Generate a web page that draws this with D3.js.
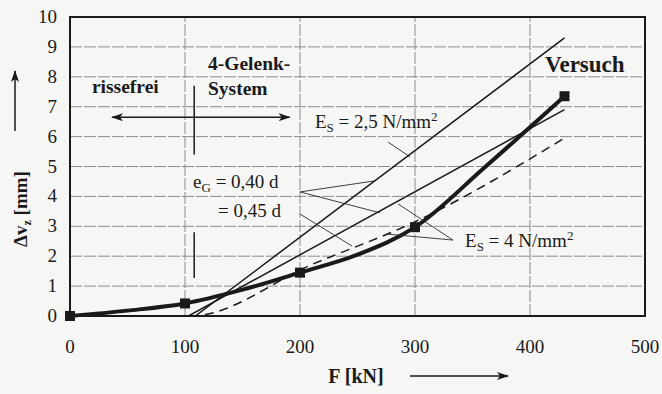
<!DOCTYPE html>
<html>
<head>
<meta charset="utf-8">
<script src="https://cdn.jsdelivr.net/npm/d3@7"></script>
<style>
  html, body { margin: 0; padding: 0; background: #f6f6f4; }
  svg { display: block; }
  svg text { font-family: "Liberation Serif", "Tinos", "Times New Roman", "Times", "Noto Serif", "DejaVu Serif", "FreeSerif", serif; }
</style>
</head>
<body>
<div id="chart"></div>
<script>
// measured curve (Versuch)
const versuchF = [0, 50, 100, 150, 200, 250, 300, 360, 430];
const versuchV = [0, 0.18, 0.42, 0.88, 1.45, 2.05, 2.97, 4.95, 7.35];
const markerF = [0, 100, 200, 300, 430];
const markerV = [0, 0.42, 1.45, 2.97, 7.35];

// theoretical lines
const es25F = [0, 109, 430];
const es25V = [0, 0, 9.3];
const es4F = [0, 103, 430];
const es4V = [0, 0, 6.9];
const es4dashF = [0, 105, 212, 300, 430];
const es4dashV = [0, 0, 1.75, 3.15, 5.95];

const xTicks = [0, 100, 200, 300, 400, 500];
const yTicks = [0, 1, 2, 3, 4, 5, 6, 7, 8, 9, 10];

const width = 662;
const height = 394;
const margin = {top: 17, right: 17, bottom: 78, left: 70};

const svg = d3.select('#chart')
  .append('svg')
  .attr('width', width)
  .attr('height', height);

svg.append('rect').attr('width', width).attr('height', height).attr('fill', '#f6f6f4');

const x = d3.scaleLinear().domain([0, 500]).range([margin.left, width - margin.right]);
const y = d3.scaleLinear().domain([0, 10]).range([height - margin.bottom, margin.top]);

const defs = svg.append('defs');
defs.append('marker')
  .attr('id', 'head')
  .attr('viewBox', '0 0 12 8')
  .attr('refX', 11).attr('refY', 4)
  .attr('markerWidth', 12).attr('markerHeight', 8)
  .attr('markerUnits', 'userSpaceOnUse')
  .attr('orient', 'auto-start-reverse')
  .append('path')
  .attr('d', 'M0,0 L12,4 L0,8 L3,4 Z')
  .attr('fill', '#1a1a1a');

// grid
const grid = svg.append('g').attr('stroke', '#8c8c8c').attr('stroke-width', 1).attr('stroke-dasharray', '12,2');
grid.selectAll('.hg')
  .data(yTicks.slice(1, -1))
  .enter().append('line')
  .attr('x1', x(0)).attr('x2', x(500))
  .attr('y1', d => y(d)).attr('y2', d => y(d));
grid.selectAll('.vg')
  .data(xTicks.slice(1, -1))
  .enter().append('line')
  .attr('y1', y(0)).attr('y2', y(10))
  .attr('x1', d => x(d)).attr('x2', d => x(d));

// frame
svg.append('rect')
  .attr('x', x(0)).attr('y', y(10))
  .attr('width', x(500) - x(0)).attr('height', y(0) - y(10))
  .attr('fill', 'none').attr('stroke', '#1a1a1a').attr('stroke-width', 2);

// tick labels
svg.append('g').selectAll('text')
  .data(yTicks)
  .enter().append('text')
  .attr('x', 57)
  .attr('y', d => y(d) + 6)
  .attr('text-anchor', 'end')
  .attr('fill', '#1a1a1a')
  .style('font-size', '19px')
  .text(d => d);
svg.append('g').selectAll('text')
  .data(xTicks)
  .enter().append('text')
  .attr('x', d => x(d))
  .attr('y', 353)
  .attr('text-anchor', 'middle')
  .attr('fill', '#1a1a1a')
  .style('font-size', '19px')
  .text(d => d);

// axis titles
svg.append('text')
  .attr('x', 356).attr('y', 383)
  .attr('text-anchor', 'middle')
  .attr('fill', '#1a1a1a')
  .style('font-size', '20px').style('font-weight', 'bold')
  .text('F [kN]');
svg.append('line')
  .attr('x1', 410).attr('y1', 376).attr('x2', 508).attr('y2', 376)
  .attr('stroke', '#1a1a1a').attr('stroke-width', 1.5)
  .attr('marker-end', 'url(#head)');

const yt = svg.append('text')
  .attr('transform', 'translate(27,209) rotate(-90)')
  .attr('text-anchor', 'middle')
  .attr('fill', '#1a1a1a')
  .style('font-size', '19px').style('font-weight', 'bold');
yt.append('tspan').text('\u0394v');
yt.append('tspan').attr('dy', 4).style('font-size', '12px').text('z');
yt.append('tspan').attr('dy', -4).text(' [mm]');
svg.append('line')
  .attr('x1', 15).attr('y1', 131).attr('x2', 15).attr('y2', 71)
  .attr('stroke', '#1a1a1a').attr('stroke-width', 1.5)
  .attr('marker-end', 'url(#head)');

// region markers
const boundF = 108;
const boundSegs = [[7.7, 5.4], [2.8, 1.27]];
svg.append('g').selectAll('line')
  .data(boundSegs)
  .enter().append('line')
  .attr('x1', x(boundF)).attr('x2', x(boundF))
  .attr('y1', d => y(d[0])).attr('y2', d => y(d[1]))
  .attr('stroke', '#1a1a1a').attr('stroke-width', 1.5);
svg.append('line')
  .attr('x1', x(36.5)).attr('x2', x(191))
  .attr('y1', y(6.65)).attr('y2', y(6.65))
  .attr('stroke', '#1a1a1a').attr('stroke-width', 1.5)
  .attr('marker-start', 'url(#head)')
  .attr('marker-end', 'url(#head)');

const line = d3.line().x(d => x(d[0])).y(d => y(d[1]));
const curve = d3.line().x(d => x(d[0])).y(d => y(d[1])).curve(d3.curveMonotoneX);
const smooth = d3.line().x(d => x(d[0])).y(d => y(d[1])).curve(d3.curveCatmullRom.alpha(0.5));

svg.append('path')
  .attr('d', line(d3.zip(es25F, es25V)))
  .attr('fill', 'none').attr('stroke', '#1a1a1a').attr('stroke-width', 1.5);
svg.append('path')
  .attr('d', line(d3.zip(es4F, es4V)))
  .attr('fill', 'none').attr('stroke', '#1a1a1a').attr('stroke-width', 1.5);
svg.append('path')
  .attr('d', curve(d3.zip(es4dashF, es4dashV)))
  .attr('fill', 'none').attr('stroke', '#1a1a1a').attr('stroke-width', 1.5)
  .attr('stroke-dasharray', '9,6');

// Versuch
svg.append('path')
  .attr('d', smooth(d3.zip(versuchF, versuchV)))
  .attr('fill', 'none').attr('stroke', '#1a1a1a').attr('stroke-width', 4)
  .attr('stroke-linejoin', 'round');
svg.append('g').selectAll('rect')
  .data(d3.zip(markerF, markerV))
  .enter().append('rect')
  .attr('x', d => x(d[0]) - 5).attr('y', d => y(d[1]) - 5)
  .attr('width', 10).attr('height', 10)
  .attr('fill', '#1a1a1a');

// leader lines
const leaders = [
  [[276.5, 5.82], [295.7, 5.32]],
  [[200, 4.15], [265.2, 4.52]],
  [[200, 4.15], [269.6, 3.45]],
  [[200, 3.41], [245.2, 2.34]],
  [[333, 2.54], [285.2, 3.75]],
  [[333, 2.54], [275.7, 2.74]]
];
svg.append('g').selectAll('line')
  .data(leaders)
  .enter().append('line')
  .attr('x1', d => x(d[0][0])).attr('y1', d => y(d[0][1]))
  .attr('x2', d => x(d[1][0])).attr('y2', d => y(d[1][1]))
  .attr('stroke', '#2a2a2a').attr('stroke-width', 0.9);

// labels
function label(fx, vy, size, bold) {
  return svg.append('text')
    .attr('x', x(fx)).attr('y', y(vy))
    .attr('fill', '#1a1a1a')
    .style('font-size', size + 'px')
    .style('font-weight', bold ? 'bold' : 'normal');
}
label(19.1, 7.46, 19.5, true).text('rissefrei');
label(120, 8.23, 19.5, true).text('4-Gelenk-');
label(120, 7.39, 19.5, true).text('System');
label(413, 8.16, 23, true).text('Versuch');

const es25 = label(213, 6.29, 19, false);
es25.append('tspan').text('E');
es25.append('tspan').attr('dy', 4).style('font-size', '13px').text('S');
es25.append('tspan').attr('dy', -4).text(' = 2,5 N/mm');
es25.append('tspan').attr('dy', -7).style('font-size', '13px').text('2');

const eg = label(107, 4.28, 19, false);
eg.append('tspan').text('e');
eg.append('tspan').attr('dy', 4).style('font-size', '13px').text('G');
eg.append('tspan').attr('dy', -4).text(' = 0,40 d');
label(128.7, 3.31, 19, false).text('= 0,45 d');

const es4 = label(343.5, 2.31, 19, false);
es4.append('tspan').text('E');
es4.append('tspan').attr('dy', 4).style('font-size', '13px').text('S');
es4.append('tspan').attr('dy', -4).text(' = 4 N/mm');
es4.append('tspan').attr('dy', -7).style('font-size', '13px').text('2');
</script>
</body>
</html>
